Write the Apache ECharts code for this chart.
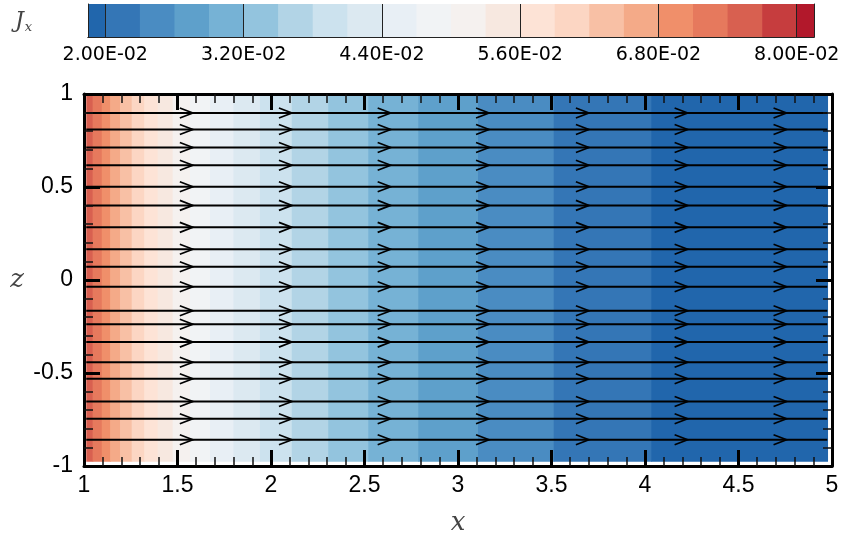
<!DOCTYPE html>
<html>
<head>
<meta charset="utf-8">
<script src="https://cdn.jsdelivr.net/npm/echarts@6/dist/echarts.min.js"></script>
<style>html,body{margin:0;padding:0;background:#fff;}#c{width:843px;height:541px;}</style>
</head>
<body>
<div id="c"></div>
<script>
// ---- data ----
// contour band edges along x (bands are nearly uniform in z)
const xEdges = [1.012, 1.046, 1.095, 1.140, 1.193, 1.255, 1.322, 1.394, 1.474, 1.567, 1.674,
                1.799, 1.941, 2.111, 2.306, 2.520, 2.787, 3.107, 3.512, 4.034, 4.975];
// Jx value inside each band
const jxValues = [0.0755, 0.0725, 0.0695, 0.0665, 0.0635, 0.0605, 0.0575, 0.0545, 0.0515, 0.0485,
                  0.0455, 0.0425, 0.0395, 0.0365, 0.0335, 0.0305, 0.0275, 0.0245, 0.0215, 0.0185];
// z extent of the filled field
const zRange = [-0.977, 0.993];
// streamline heights
const streamZ = [0.898, 0.809, 0.712, 0.617, 0.501, 0.401, 0.283, 0.165, 0.071,
                 -0.036, -0.165, -0.238, -0.334, -0.442, -0.531, -0.653, -0.746, -0.859];
// arrow tip positions along each streamline
const arrowX = [1.582, 2.112, 2.640, 3.166, 3.700, 4.228, 4.757];
// contour levels and colours
const levels = [0.020, 0.023, 0.026, 0.029, 0.032, 0.035, 0.038, 0.041, 0.044, 0.047, 0.050,
                0.053, 0.056, 0.059, 0.062, 0.065, 0.068, 0.071, 0.074, 0.077, 0.080];
const levelColors = ['#2166ac', '#3476b6', '#4a8cc2', '#5ea0cb', '#76b2d5', '#93c4de', '#b2d4e6',
                     '#cce2ee', '#dce9f1', '#e8eff5', '#f1f3f5', '#f5f1ef', '#f7e8e0', '#fde3d6',
                     '#fcd6c3', '#f8c0a5', '#f4aa88', '#f08f6a', '#e6795d', '#d86050', '#c63d3e', '#b2182b'];
const cbRange = [0.0185, 0.0815];
const cbTicks = [0.020, 0.032, 0.044, 0.056, 0.068, 0.080];
const cbLabels = ['2.00E-02', '3.20E-02', '4.40E-02', '5.60E-02', '6.80E-02', '8.00E-02'];

// ---- build ----
const fillData = jxValues.map((v, i) => [xEdges[i], xEdges[i + 1], v]);
const lineData = streamZ.map(z => [xEdges[0], xEdges[xEdges.length - 1], z]);
const arrowData = [];
streamZ.forEach(z => arrowX.forEach(x => arrowData.push([x, z])));
const cbData = [];
for (let i = 0; i <= levels.length; i++) {
  const lo = i === 0 ? cbRange[0] : levels[i - 1];
  const hi = i === levels.length ? cbRange[1] : levels[i];
  cbData.push([lo, hi, (lo + hi) / 2]);
}
const pieces = [{ lt: levels[0], color: levelColors[0] }];
for (let i = 0; i < levels.length - 1; i++) {
  pieces.push({ gte: levels[i], lt: levels[i + 1], color: levelColors[i + 1] });
}
pieces.push({ gte: levels[levels.length - 1], color: levelColors[levelColors.length - 1] });

const sans = 'Liberation Sans';
const frameStyle = { color: '#000', width: 3 };
function mainX(pos, showLabel) {
  return {
    type: 'value', gridIndex: 0, position: pos, min: 1, max: 5, interval: 0.5, z: 10,
    axisLine: { show: true, onZero: false, lineStyle: frameStyle },
    axisTick: { show: true, inside: true, length: 16, lineStyle: { color: '#000', width: 3 } },
    minorTick: { show: true, splitNumber: 5, length: 9, lineStyle: { color: '#111', width: 1.5 } },
    axisLabel: { show: showLabel, fontFamily: sans, fontSize: 23, color: '#000', margin: 8 },
    splitLine: { show: false }
  };
}
function mainY(pos, showLabel) {
  return {
    type: 'value', gridIndex: 0, position: pos, min: -1, max: 1, interval: 0.5, z: 10,
    axisLine: { show: true, onZero: false, lineStyle: frameStyle },
    axisTick: { show: true, inside: true, length: 16, lineStyle: { color: '#000', width: 3 } },
    minorTick: { show: true, splitNumber: 5, length: 9, lineStyle: { color: '#111', width: 1.5 } },
    axisLabel: { show: showLabel, fontFamily: sans, fontSize: 23, color: '#000', margin: 11 },
    splitLine: { show: false }
  };
}
const xb = mainX('bottom', true);
xb.name = 'x'; xb.nameLocation = 'middle'; xb.nameGap = 44;
xb.nameTextStyle = { fontFamily: 'DejaVu Serif', fontStyle: 'italic', fontSize: 26, color: '#444' };
const yl = mainY('left', true);
yl.name = 'z'; yl.nameLocation = 'middle'; yl.nameGap = 60; yl.nameRotate = 0;
yl.nameTextStyle = { fontFamily: 'DejaVu Serif', fontStyle: 'italic', fontSize: 26, color: '#444' };

const cbLine = { color: '#222', width: 1 };
const option = {
  backgroundColor: '#fff',
  animation: false,
  grid: [
    { left: 84, right: 11, top: 94, bottom: 75 },
    { left: 88, width: 726, top: 4, height: 33 }
  ],
  xAxis: [
    xb,
    mainX('top', false),
    {
      type: 'value', gridIndex: 1, position: 'bottom', min: cbRange[0], max: cbRange[1], z: 10,
      axisLine: { show: true, lineStyle: cbLine },
      axisTick: { show: true, inside: true, length: 33, customValues: cbTicks, lineStyle: cbLine },
      axisLabel: {
        show: true, customValues: cbTicks, fontFamily: 'DejaVu Sans', fontSize: 19, color: '#000', margin: 9,
        formatter: v => { let k = 0; cbTicks.forEach((t, i) => { if (Math.abs(t - v) < 1e-9) k = i; }); return cbLabels[k]; }
      },
      splitLine: { show: false }
    },
    {
      type: 'value', gridIndex: 1, position: 'top', min: cbRange[0], max: cbRange[1], z: 10,
      axisLine: { show: true, lineStyle: cbLine }, axisTick: { show: false }, axisLabel: { show: false }, splitLine: { show: false }
    }
  ],
  yAxis: [
    yl,
    mainY('right', false),
    {
      type: 'value', gridIndex: 1, position: 'left', min: 0, max: 1, z: 10,
      axisLine: { show: true, lineStyle: cbLine }, axisTick: { show: false }, axisLabel: { show: false }, splitLine: { show: false }
    },
    {
      type: 'value', gridIndex: 1, position: 'right', min: 0, max: 1, z: 10,
      axisLine: { show: true, lineStyle: cbLine }, axisTick: { show: false }, axisLabel: { show: false }, splitLine: { show: false }
    }
  ],
  visualMap: {
    type: 'piecewise', show: false, dimension: 2, seriesIndex: [0, 3], pieces: pieces
  },
  graphic: [{
    type: 'text', left: 15, top: 10,
    style: {
      text: '{a|J}{b|x}',
      rich: {
        a: { fontFamily: 'DejaVu Serif', fontStyle: 'italic', fontSize: 22, fill: '#444' },
        b: { fontFamily: 'DejaVu Serif', fontStyle: 'italic', fontSize: 13, fill: '#444', padding: [13, 0, 0, 1] }
      }
    }
  }],
  series: [
    {
      type: 'custom', name: 'Jx', xAxisIndex: 0, yAxisIndex: 0, z: 2, clip: true,
      encode: { x: [0, 1], y: 2 },
      data: fillData,
      renderItem: (params, api) => {
        const p0 = api.coord([api.value(0), zRange[1]]);
        const p1 = api.coord([api.value(1), zRange[0]]);
        return {
          type: 'rect',
          shape: { x: p0[0], y: p0[1], width: p1[0] - p0[0] + 0.7, height: p1[1] - p0[1] },
          style: { fill: api.visual('color'), stroke: null }
        };
      }
    },
    {
      type: 'custom', name: 'streamlines', xAxisIndex: 0, yAxisIndex: 0, z: 4,
      encode: { x: [0, 1], y: 2 },
      data: lineData,
      renderItem: (params, api) => {
        const p0 = api.coord([api.value(0), api.value(2)]);
        const p1 = api.coord([api.value(1), api.value(2)]);
        return {
          type: 'line',
          shape: { x1: p0[0], y1: p0[1], x2: p1[0], y2: p1[1] },
          style: { stroke: '#000', lineWidth: 2 }
        };
      }
    },
    {
      type: 'custom', name: 'arrows', xAxisIndex: 0, yAxisIndex: 0, z: 5,
      encode: { x: 0, y: 1 },
      data: arrowData,
      renderItem: (params, api) => {
        const p = api.coord([api.value(0), api.value(1)]);
        return {
          type: 'polyline',
          shape: { points: [[p[0] - 13, p[1] - 5], [p[0], p[1]], [p[0] - 13, p[1] + 5]] },
          style: { stroke: '#000', lineWidth: 1.7, fill: null }
        };
      }
    },
    {
      type: 'custom', name: 'colorbar', xAxisIndex: 2, yAxisIndex: 2, z: 2,
      encode: { x: [0, 1], y: 2 },
      data: cbData,
      renderItem: (params, api) => {
        const p0 = api.coord([api.value(0), 1]);
        const p1 = api.coord([api.value(1), 0]);
        return {
          type: 'rect',
          shape: { x: p0[0], y: p0[1], width: p1[0] - p0[0] + 0.7, height: p1[1] - p0[1] },
          style: { fill: api.visual('color'), stroke: null }
        };
      }
    }
  ]
};
const chart = echarts.init(document.getElementById('c'), null, { renderer: 'canvas' });
chart.setOption(option);
</script>
</body>
</html>
